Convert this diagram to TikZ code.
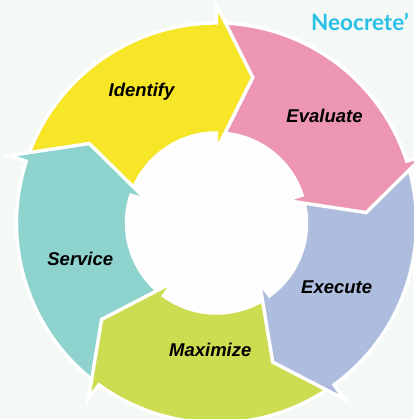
\documentclass[tikz,border=0pt]{standalone}
\usepackage{fontspec}
\setmainfont{Liberation Sans}
\newfontfamily\brandfont{Lato}
\definecolor{bgc}{RGB}{245,249,245}
\definecolor{holec}{RGB}{252,253,252}
\definecolor{cyel}{RGB}{247,230,40}
\definecolor{cpink}{RGB}{236,150,180}
\definecolor{clav}{RGB}{174,188,222}
\definecolor{clime}{RGB}{205,221,82}
\definecolor{cteal}{RGB}{143,211,207}
\definecolor{ccyan}{RGB}{41,192,232}
\tikzset{
  seg/.style={draw=white, line width=3.4pt, line join=miter},
  lbl/.style={font=\fontsize{18.5}{20}\selectfont\bfseries\itshape, text=black, anchor=base, inner sep=0pt},
}
\newcommand{\arrowshape}{(72:200) arc[start angle=72, end angle=0, radius=200] -- (0:218) -- (-14:150) -- (0:73) -- (0:90) arc[start angle=0, end angle=72, radius=90] -- cycle}
\begin{document}
\begin{tikzpicture}[x=1pt,y=1pt]
\useasboundingbox (0,0) rectangle (413,419);
\fill[bgc] (0,0) rectangle (413,419);
\coordinate (C) at (216.5,196);
\fill[holec] (C) circle[radius=90];
% Identify first (tail under Service head)
\begin{scope}[shift={(C)}, rotate=90]
  \path[seg, fill=cyel] \arrowshape;
\end{scope}
\begin{scope}[shift={(C)}, rotate=162]
  \path[seg, fill=cteal] \arrowshape;
\end{scope}
\begin{scope}[shift={(C)}, rotate=-126]
  \path[seg, fill=clime] \arrowshape;
\end{scope}
\begin{scope}[shift={(C)}, rotate=-54]
  \path[seg, fill=clav] \arrowshape;
\end{scope}
\begin{scope}[shift={(C)}, rotate=18]
  \path[seg, fill=cpink] \arrowshape;
\end{scope}
% Identify head on top of Evaluate tail
\begin{scope}[shift={(C)}, rotate=90]
  \clip (0,0) -- (-40:320) -- (40:320) -- cycle;
  \path[seg, fill=cyel] \arrowshape;
\end{scope}
\node[lbl] (identify) at (141.5,322.3) {Identify};
\node[lbl] (evaluate) at (324.5,296.3) {Evaluate};
\node[lbl] (execute) at (336.7,125.7) {Execute};
\node[lbl] (maximize) at (210.3,62.3) {Maximize};
\node[lbl] (service) at (80.3,153.3) {Service};
\node[anchor=base west, inner sep=0pt, text=ccyan, font=\brandfont\bfseries\fontsize{22.5}{26}\selectfont] (brand) at (311,388) {Neocrete’};
\end{tikzpicture}
\end{document}
